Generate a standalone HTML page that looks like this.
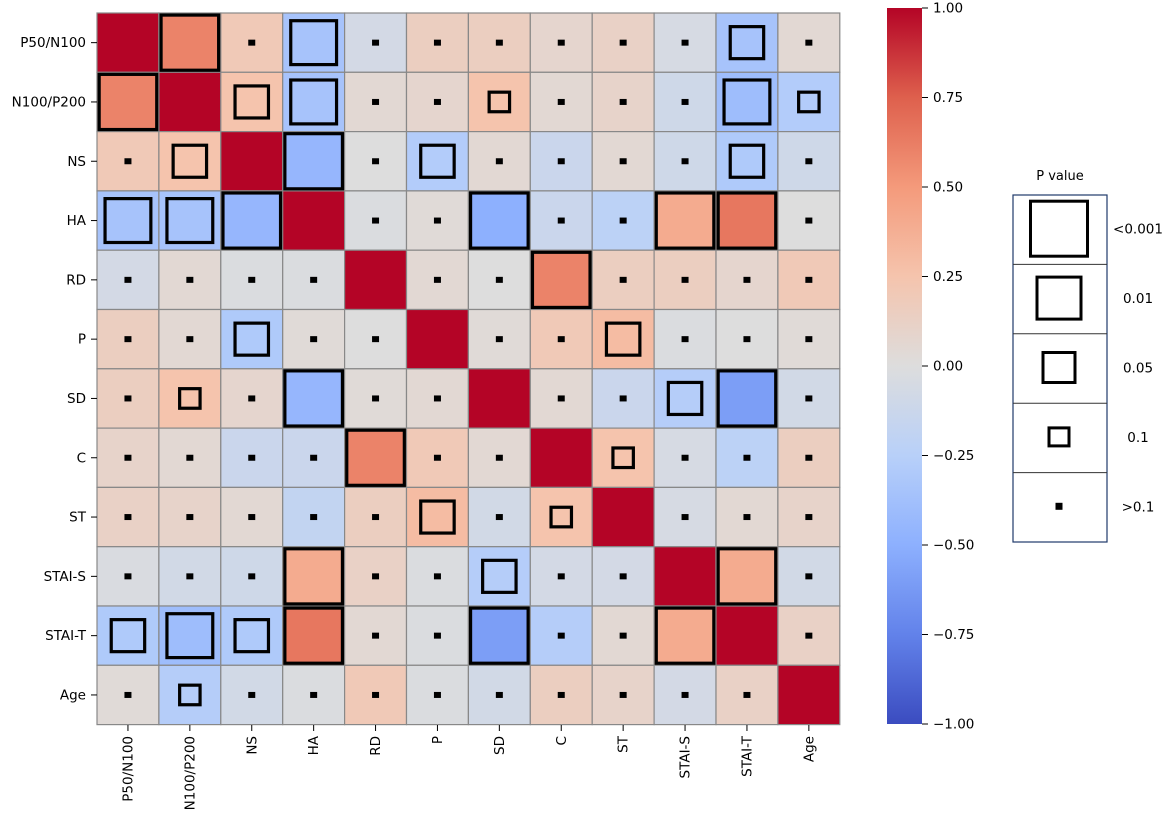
<!DOCTYPE html>
<html><head><meta charset="utf-8">
<style>
html,body{margin:0;padding:0;background:#fff;}
svg{display:block;font-family:"DejaVu Sans","Liberation Sans",sans-serif;}
</style></head>
<body>
<svg id="chart" width="1170" height="821" viewBox="0 0 1170 821" xmlns="http://www.w3.org/2000/svg">
<defs>
<linearGradient id="cbgrad" x1="0" y1="1" x2="0" y2="0">
<stop offset="0" stop-color="rgb(59,76,192)"/>
<stop offset="0.125" stop-color="rgb(98,130,234)"/>
<stop offset="0.25" stop-color="rgb(141,176,254)"/>
<stop offset="0.375" stop-color="rgb(184,208,249)"/>
<stop offset="0.5" stop-color="rgb(221,221,221)"/>
<stop offset="0.625" stop-color="rgb(245,196,173)"/>
<stop offset="0.75" stop-color="rgb(244,154,123)"/>
<stop offset="0.875" stop-color="rgb(222,96,77)"/>
<stop offset="1" stop-color="rgb(180,4,38)"/>
</linearGradient>
</defs>
<g id="cells"></g>
<g id="marks"></g>
<g id="axes"></g>
<g id="colorbar">
<rect x="887" y="8" width="35" height="716" fill="url(#cbgrad)"/>
</g>
<g id="legend">
<text x="1060" y="180" font-size="13" text-anchor="middle">P value</text>
</g>
</svg>
<script>
const labels = ["P50/N100","N100/P200","NS","HA","RD","P","SD","C","ST","STAI-S","STAI-T","Age"];
const r0 = [1,0.6,0.2,-0.35,-0.07,0.15,0.15,0.08,0.12,-0.05,-0.35,0.05];
const r1 = [0.6,1,0.25,-0.35,0.05,0.08,0.25,0.05,0.1,-0.1,-0.4,-0.28];
const r2 = [0.2,0.25,1,-0.45,0.0,-0.28,0.05,-0.13,0.05,-0.1,-0.3,-0.1];
const r3 = [-0.35,-0.35,-0.45,1,-0.02,0.03,-0.5,-0.13,-0.22,0.4,0.65,0.0];
const r4 = [-0.07,0.05,-0.02,-0.02,1,0.05,0.0,0.6,0.15,0.15,0.08,0.2];
const r5 = [0.15,0.05,-0.3,0.03,0.0,1,0.03,0.2,0.3,-0.02,0.0,0.03];
const r6 = [0.15,0.25,0.08,-0.45,0.03,0.05,1,0.05,-0.13,-0.27,-0.6,-0.08];
const r7 = [0.1,0.05,-0.13,-0.13,0.6,0.2,0.05,1,0.25,-0.05,-0.22,0.15];
const r8 = [0.12,0.1,0.05,-0.18,0.15,0.3,-0.08,0.25,1,-0.05,0.05,0.1];
const r9 = [-0.03,-0.08,-0.1,0.4,0.12,-0.02,-0.27,-0.07,-0.07,1,0.4,-0.08];
const r10 = [-0.3,-0.4,-0.3,0.65,0.05,-0.02,-0.6,-0.27,0.05,0.4,1,0.12];
const r11 = [0.03,-0.27,-0.08,-0.02,0.2,-0.02,-0.08,0.15,0.1,-0.07,0.12,1];
// p categories: 0 <0.001, 1 0.01, 2 0.05, 3 0.1, 4 >0.1, -1 diagonal
const p0 = [-1,0,4,1,4,4,4,4,4,4,2,4];
const p1 = [0,-1,2,1,4,4,3,4,4,4,1,3];
const p2 = [4,2,-1,0,4,2,4,4,4,4,2,4];
const p3 = [1,1,0,-1,4,4,0,4,4,0,0,4];
const p4 = [4,4,4,4,-1,4,4,0,4,4,4,4];
const p5 = [4,4,2,4,4,-1,4,4,2,4,4,4];
const p6 = [4,3,4,0,4,4,-1,4,4,2,0,4];
const p7 = [4,4,4,4,0,4,4,-1,3,4,4,4];
const p8 = [4,4,4,4,4,2,4,3,-1,4,4,4];
const p9 = [4,4,4,0,4,4,2,4,4,-1,0,4];
const p10 = [2,1,2,0,4,4,0,4,4,0,-1,4];
const p11 = [4,3,4,4,4,4,4,4,4,4,4,-1];
const colorTicks = [1.00,0.75,0.50,0.25,0.00,-0.25,-0.50,-0.75,-1.00];
const legendLabels = ["<0.001","0.01","0.05","0.1",">0.1"];

const R=[r0,r1,r2,r3,r4,r5,r6,r7,r8,r9,r10,r11];
const P=[p0,p1,p2,p3,p4,p5,p6,p7,p8,p9,p10,p11];
const NS="http://www.w3.org/2000/svg";
const X0=97, Y0=13, CW=61.9, CH=59.3;
const xs=i=>X0+i*CW, ys=i=>Y0+i*CH;
const cbTop=8, cbBot=724;
const cy=v=>cbBot-(v+1)/2*(cbBot-cbTop);
const stops=[[59,76,192],[98,130,234],[141,176,254],[184,208,249],[221,221,221],[245,196,173],[244,154,123],[222,96,77],[180,4,38]];
function cmap(v){let t=(Math.max(-1,Math.min(1,v))+1)/2*8;let i=Math.min(7,Math.floor(t));let f=t-i;const a=stops[i],b=stops[i+1];
return `rgb(${a.map((c,k)=>Math.round(c+(b[k]-c)*f)).join(',')})`;}
function el(tag,attrs,parent){const e=document.createElementNS(NS,tag);for(const k in attrs)e.setAttribute(k,attrs[k]);parent.appendChild(e);return e;}
const boxFrac=[0.93,0.74,0.54,0.33];
const cells=document.getElementById('cells'),marks=document.getElementById('marks'),axes=document.getElementById('axes');
for(let i=0;i<12;i++)for(let j=0;j<12;j++){
  const c=el('rect',{x:xs(j),y:ys(i),width:CW,height:CH,fill:cmap(R[i][j]),stroke:'#888','stroke-width':1.2},cells);
  
  
  const pc=P[i][j];const cxp=xs(j)+CW/2, cyp=ys(i)+CH/2;
  if(pc>=0&&pc<4){const w=CW*boxFrac[pc],h=CH*boxFrac[pc];
    const b=el('rect',{x:cxp-w/2,y:cyp-h/2,width:w,height:h,fill:'none',stroke:'#000','stroke-width':3.2},marks);
    
    
  } else if(pc===4){
    const d=el('rect',{x:cxp-3.5,y:cyp-3,width:7,height:6,fill:'#000'},marks);
    
    
  }
}
labels.forEach((l,i)=>{
  el('line',{x1:91,x2:97,y1:ys(i)+CH/2,y2:ys(i)+CH/2,stroke:'#000','stroke-width':1},axes);
  const t=el('text',{x:86,y:ys(i)+CH/2+4.5,'font-size':13.5,'text-anchor':'end'},axes);t.textContent=l;
  
  
  const xc=xs(i)+CW/2;
  el('line',{x1:xc,x2:xc,y1:725,y2:731,stroke:'#000','stroke-width':1},axes);
  const tx=el('text',{x:0,y:0,'font-size':13.5,'text-anchor':'end',transform:`translate(${xc+4.5},736) rotate(-90)`},axes);tx.textContent=l;
  
  
});
const cb=document.getElementById('colorbar');
colorTicks.forEach(v=>{
  const y=cy(v);
  el('line',{x1:922,x2:928,y1:y,y2:y,stroke:'#000','stroke-width':1},cb);
  const t=el('text',{x:933,y:y+4.5,'font-size':13.5},cb);
  t.textContent=(v<0?'\u2212':'')+Math.abs(v).toFixed(2);
  
  
});
const lg=document.getElementById('legend');
const LX=1013,LY=195,LW=94,LH=69.4;
const fr=el('rect',{x:LX,y:LY,width:LW,height:LH*5,fill:'#fff',stroke:'#1f3a6a','stroke-width':1.2},lg);


const lsz=[[57,55],[44,42],[32,30],[20,18],[7,7]];
legendLabels.forEach((l,k)=>{
  const y=LY+k*LH;
  if(k>0)el('line',{x1:LX,x2:LX+LW,y1:y,y2:y,stroke:'#333','stroke-width':1},lg);
  const [w,h]=lsz[k];const cxl=LX+LW/2-1, cyl=y+LH/2-1;
  let m;
  if(k<4)m=el('rect',{x:cxl-w/2,y:cyl-h/2,width:w,height:h,fill:'none',stroke:'#000','stroke-width':3},lg);
  else m=el('rect',{x:cxl-w/2,y:cyl-h/2,width:w,height:h,fill:'#000'},lg);
  
  
  const t=el('text',{x:1138,y:cyl+5,'font-size':13.5,'text-anchor':'middle'},lg);t.textContent=l;
  
  
});
</script>
</body></html>
